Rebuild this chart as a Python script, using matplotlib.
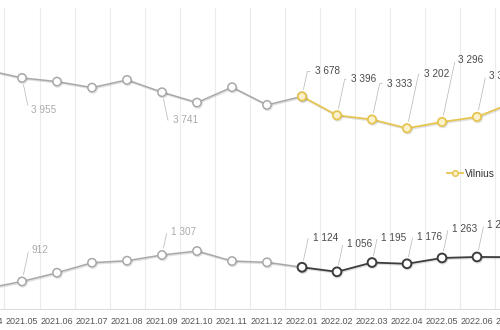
import matplotlib
matplotlib.use('Agg')
import matplotlib.pyplot as plt
import matplotlib.patheffects as pe
import numpy as np
from matplotlib.lines import Line2D

plt.rcParams['font.family'] = ['Liberation Sans', 'DejaVu Sans']

months = ['2021.04', '2021.05', '2021.06', '2021.07', '2021.08', '2021.09',
          '2021.10', '2021.11', '2021.12', '2022.01', '2022.02', '2022.03',
          '2022.04', '2022.05', '2022.06', '2022.07']
vilnius = [4070, 3955, 3900, 3810, 3925, 3741, 3586, 3816, 3551,
           3678, 3396, 3333, 3202, 3296, 3372, 3580]
lower = [810, 912, 1042, 1192, 1222, 1307, 1367, 1217, 1198,
         1124, 1056, 1195, 1176, 1263, 1278, 1275]

split = months.index('2022.01')

# label offsets in pixels (dx to text start, dy to text centre)
vilnius_offsets = {1: (9, -32), 5: (11, -28), 9: (13, 25), 10: (14, 36),
                   11: (15, 36), 12: (17, 54), 13: (16, 62), 14: (12, 41)}
lower_offsets = {1: (10, 31), 5: (9, 23), 9: (11, 29), 10: (10, 28),
                 11: (9, 25), 12: (10, 27), 13: (10, 29), 14: (10, 32)}

GRAY = '#a8a8a8'
YELLOW = '#e6c552'
YELLOW_FILL = '#fbf2cc'
DARK = '#3d3d3d'

fig = plt.figure(figsize=(5, 3.3), dpi=100)
ax = fig.add_axes([0, 21 / 330, 1, 301 / 330])

x = np.arange(len(months))
shadow = [pe.SimpleLineShadow(offset=(0.6, -0.9), shadow_color='k', alpha=0.12), pe.Normal()]

# 2021 part in gray, 2022 part coloured
ax.plot(x[:split + 1], vilnius[:split + 1], color=GRAY, lw=1.1, marker='o', ms=6,
        mfc='white', mec=GRAY, mew=1.1, zorder=3, path_effects=shadow)
ax.plot(x[:split + 1], lower[:split + 1], color=GRAY, lw=1.1, marker='o', ms=6,
        mfc='white', mec=GRAY, mew=1.1, zorder=3, path_effects=shadow)
ax.plot(x[split:], vilnius[split:], color=YELLOW, lw=1.3, marker='o', ms=6,
        mfc=YELLOW_FILL, mec=YELLOW, mew=1.3, zorder=4, path_effects=shadow)
ax.plot(x[split:], lower[split:], color=DARK, lw=1.3, marker='o', ms=6.3,
        mfc='white', mec=DARK, mew=1.4, zorder=4, path_effects=shadow)


def fmt(v):
    return f'{v:,}'.replace(',', ' ')


def label(series, offsets):
    for i, (dx, dy) in offsets.items():
        c = '#aaaaaa' if i < split else '#4a4a4a'
        ang = 78 if dy > 0 else -78
        ax.annotate(fmt(series[i]), xy=(i, series[i]), xytext=(dx, dy),
                    textcoords='offset pixels', ha='left', va='center',
                    fontsize=7.2, color=c, zorder=5,
                    arrowprops=dict(arrowstyle='-', color='#b5b5b5', lw=0.5,
                                    shrinkA=1.5, shrinkB=5, relpos=(0, 0.5),
                                    connectionstyle=f'angle,angleA=0,angleB={ang},rad=0'))


label(vilnius, vilnius_offsets)
label(lower, lower_offsets)

ax.set_xticks(x)
ax.set_xticklabels(months)
ax.set_xticks(np.arange(-0.5, len(months)), minor=True)
ax.set_yticks([])
ax.set_xlim(13 / 35, 513 / 35)
ax.set_ylim(500, 5000)
ax.grid(which='minor', axis='x', color='#ececec', lw=0.8)
ax.tick_params(which='both', length=0, pad=6, labelsize=6.5, labelcolor='#555555')
for s in ['left', 'right', 'top']:
    ax.spines[s].set_visible(False)
ax.spines['bottom'].set_color('#dddddd')
ax.spines['bottom'].set_linewidth(0.8)

# month labels just outside the view, cut by the figure edge
for i in (0, len(months) - 1):
    ax.annotate(months[i], xy=(i, 0), xycoords=('data', 'axes fraction'),
                xytext=(0, -6), textcoords='offset points', ha='center', va='top',
                fontsize=6.5, color='#555555', annotation_clip=False)

handle = Line2D([], [], color=YELLOW, lw=1.3, marker='o', ms=4,
                mfc=YELLOW_FILL, mec=YELLOW, mew=1.1)
ax.legend([handle], ['Vilnius'], loc='center left',
          bbox_to_anchor=(447 / 500, 1 - 174 / 330), bbox_transform=fig.transFigure,
          frameon=False, fontsize=7.3, borderpad=0, borderaxespad=0,
          handlelength=1.6, handletextpad=0.2, labelcolor='#333333')

fig.savefig('out.png', dpi=100)
